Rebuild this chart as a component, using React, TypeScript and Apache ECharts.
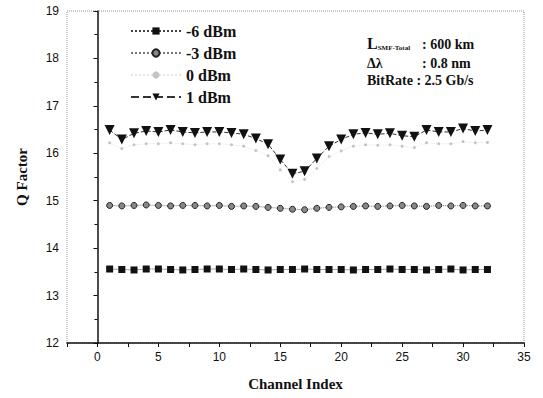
import React, { useEffect, useRef } from "react";
import * as echarts from "echarts";

const channels = [1, 2, 3, 4, 5, 6, 7, 8, 9, 10, 11, 12, 13, 14, 15, 16, 17, 18, 19, 20, 21, 22, 23, 24, 25, 26, 27, 28, 29, 30, 31, 32];
const qM6 = [13.56, 13.55, 13.54, 13.56, 13.56, 13.55, 13.54, 13.55, 13.56, 13.56, 13.55, 13.56, 13.55, 13.54, 13.55, 13.55, 13.56, 13.55, 13.55, 13.55, 13.54, 13.55, 13.55, 13.56, 13.55, 13.55, 13.54, 13.55, 13.56, 13.54, 13.55, 13.55];
const qM3 = [14.9, 14.89, 14.9, 14.91, 14.9, 14.89, 14.9, 14.9, 14.89, 14.9, 14.88, 14.89, 14.88, 14.86, 14.84, 14.82, 14.81, 14.84, 14.86, 14.87, 14.88, 14.89, 14.88, 14.89, 14.9, 14.89, 14.88, 14.9, 14.89, 14.9, 14.89, 14.89];
const q0 = [16.22, 16.1, 16.18, 16.2, 16.2, 16.22, 16.2, 16.18, 16.2, 16.2, 16.18, 16.15, 16.06, 15.95, 15.65, 15.4, 15.45, 15.68, 15.93, 16.05, 16.15, 16.18, 16.17, 16.18, 16.15, 16.12, 16.22, 16.2, 16.2, 16.25, 16.22, 16.23];
const q1 = [16.49, 16.29, 16.42, 16.47, 16.45, 16.49, 16.45, 16.43, 16.45, 16.45, 16.43, 16.4, 16.31, 16.19, 15.87, 15.57, 15.62, 15.89, 16.15, 16.29, 16.4, 16.43, 16.4, 16.42, 16.37, 16.35, 16.49, 16.45, 16.45, 16.52, 16.47, 16.49];
const seriesNames = ["-6 dBm", "-3 dBm", "0 dBm", "1 dBm"];
const xMin = -2.5;
const xMax = 35;
const yMin = 12;
const yMax = 19;

const serif = "'Liberation Serif', 'DejaVu Serif', serif";
const sans = "'Liberation Sans', Arial, sans-serif";

function pairs(vals: number[]) {
  return channels.map((c, i) => [c, vals[i]]);
}

export default function App() {
  const ref = useRef<HTMLDivElement>(null);
  useEffect(() => {
    if (!ref.current) return;
    const chart = echarts.init(ref.current, null, { renderer: "svg" });
    const txt = (text: string, left: number, top: number) => ({
      type: "text",
      left,
      top,
      style: { text, font: `bold 14px ${serif}`, fill: "#111" },
    });
    chart.setOption({
      animation: false,
      backgroundColor: "#ffffff",
      grid: {
        left: 67,
        right: 19,
        top: 11,
        bottom: 55,
        show: true,
        borderColor: "#999",
        borderWidth: 1,
        borderType: "dotted",
      },
      legend: {
        orient: "vertical",
        left: 125,
        top: 18,
        itemWidth: 50,
        itemHeight: 9,
        itemGap: 6,
        data: seriesNames,
        textStyle: { fontFamily: serif, fontSize: 16, fontWeight: "bold", color: "#111" },
      },
      xAxis: {
        type: "value",
        min: xMin,
        max: xMax,
        interval: 2.5,
        name: "Channel Index",
        nameLocation: "middle",
        nameGap: 33,
        nameTextStyle: { fontFamily: serif, fontSize: 15, fontWeight: "bold", color: "#111" },
        axisLine: { lineStyle: { color: "#111", width: 1.5 } },
        axisTick: { inside: false, length: 4, lineStyle: { color: "#111" } },
        axisLabel: {
          fontFamily: sans,
          fontSize: 12,
          color: "#111",
          margin: 8,
          formatter: (v: number) => (v >= 0 && v % 5 === 0 ? String(v) : ""),
        },
        splitLine: { show: false },
      },
      yAxis: {
        type: "value",
        min: yMin,
        max: yMax,
        interval: 1,
        name: "Q Factor",
        nameLocation: "middle",
        nameGap: 38,
        nameTextStyle: { fontFamily: serif, fontSize: 15, fontWeight: "bold", color: "#111" },
        axisLine: { show: true, lineStyle: { color: "#111", width: 1.5 } },
        axisTick: { show: true, inside: false, length: 4, lineStyle: { color: "#111" } },
        minorTick: { show: true, splitNumber: 2, length: 3, lineStyle: { color: "#111" } },
        axisLabel: { fontFamily: sans, fontSize: 12, color: "#111", margin: 8 },
        splitLine: { show: false },
      },
      graphic: [
        {
          type: "text",
          left: 367,
          top: 35,
          style: {
            text: "{L|L}{s|SMF-Total}",
            rich: {
              L: { fontFamily: serif, fontSize: 16, fontWeight: "bold", fill: "#111", color: "#111" },
              s: { fontFamily: serif, fontSize: 7, fontWeight: "bold", fill: "#111", color: "#111", padding: [9, 0, 0, 0] },
            },
          },
        },
        txt(": 600 km", 422, 37),
        txt("Δλ", 367, 56),
        txt(": 0.8 nm", 422, 56),
        txt("BitRate : 2.5 Gb/s", 367, 73),
      ],
      series: [
        {
          name: seriesNames[0],
          type: "line",
          data: pairs(qM6),
          symbol: "rect",
          symbolSize: 7,
          itemStyle: { color: "#111" },
          lineStyle: { color: "#444", width: 1, type: "dotted" },
        },
        {
          name: seriesNames[1],
          type: "line",
          data: pairs(qM3),
          symbol: "circle",
          symbolSize: 6,
          itemStyle: { color: "#888", borderColor: "#222", borderWidth: 1 },
          lineStyle: { color: "#777", width: 1, type: "dotted" },
        },
        {
          name: seriesNames[2],
          type: "line",
          data: pairs(q0),
          symbol: "circle",
          symbolSize: 3,
          itemStyle: { color: "#c4c4c4" },
          lineStyle: { color: "#e6e6e6", width: 1, type: "dotted" },
        },
        {
          name: seriesNames[3],
          type: "line",
          data: pairs(q1),
          symbol: "triangle",
          symbolRotate: 180,
          symbolSize: 10,
          itemStyle: { color: "#111" },
          lineStyle: { color: "#333", width: 1, type: "dashed" },
        },
      ],
    });
    return () => chart.dispose();
  }, []);
  return <div ref={ref} style={{ width: 543, height: 398, position: "absolute", left: 0, top: 0 }} />;
}
